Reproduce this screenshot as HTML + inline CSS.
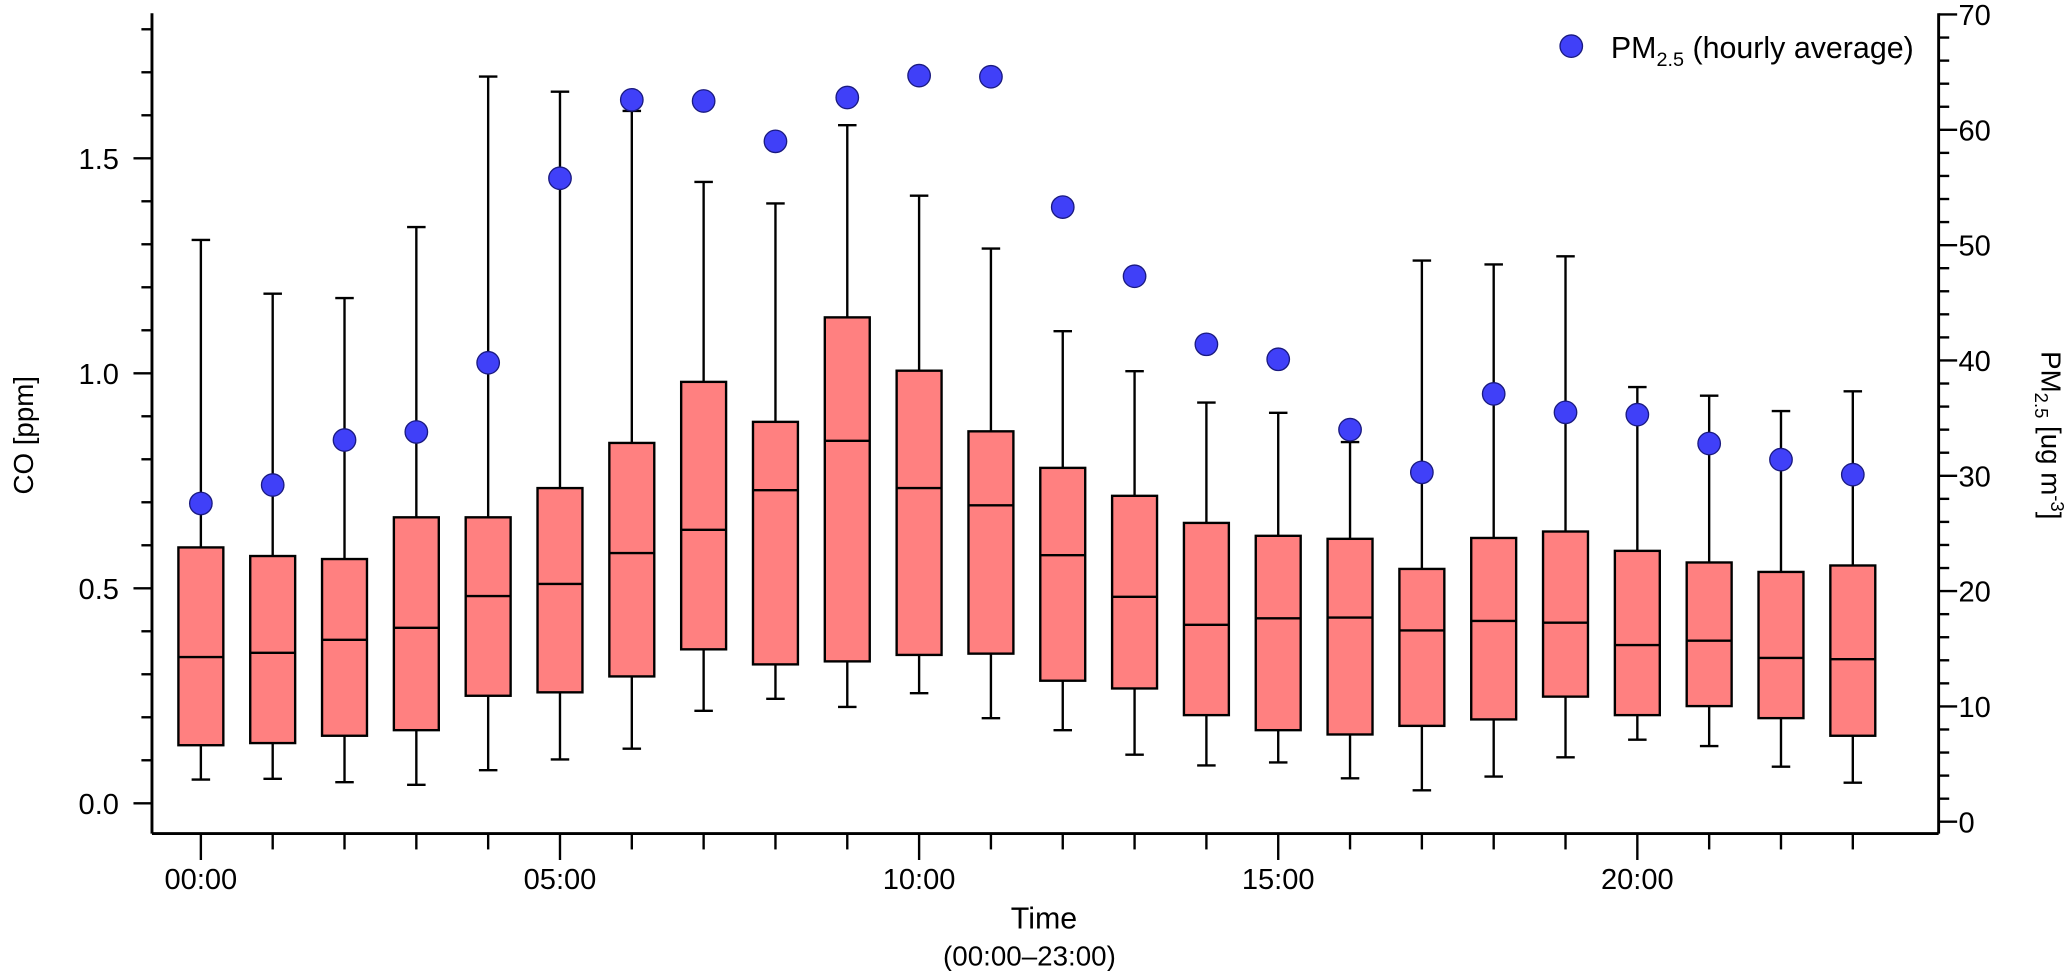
<!DOCTYPE html>
<html><head><meta charset="utf-8"><style>
html,body{margin:0;padding:0;background:#fff;overflow:hidden;}
svg{display:block;font-family:"Liberation Sans",Arial,sans-serif;}
</style></head><body>
<svg id="chart" width="2067" height="971" viewBox="0 0 2067 971" xmlns="http://www.w3.org/2000/svg">
<g transform="scale(1.3215,1.319)">
<g id="axes"></g>
<g id="marks"></g>
<g>
  <circle cx="1189" cy="35" r="8.5" fill="#4040f8" stroke="#1a1a80" stroke-width="1"/>
  <text x="1219" y="44" font-size="23" fill="#000">PM<tspan font-size="15" dy="6">2.5</tspan><tspan dy="-6"> (hourly average)</tspan></text>
</g>
<text transform="translate(25,330) rotate(-90)" text-anchor="middle" font-size="21">CO [ppm]</text>
<text transform="translate(1545,330) rotate(90)" text-anchor="middle" font-size="21">PM<tspan font-size="14" dy="5">2.5</tspan><tspan dy="-5"> [ug m</tspan><tspan font-size="14" dy="-7">-3</tspan><tspan dy="7">]</tspan></text>
<text x="790" y="704" text-anchor="middle" font-size="23">Time</text>
<text x="779" y="732" text-anchor="middle" font-size="21">(00:00–23:00)</text>
</g>
</svg>
<script>
const hours = [0,1,2,3,4,5,6,7,8,9,10,11,12,13,14,15,16,17,18,19,20,21,22,23];
const coMax = [1.31,1.185,1.175,1.34,1.69,1.655,1.61,1.445,1.395,1.577,1.413,1.29,1.098,1.005,0.932,0.908,0.84,1.262,1.253,1.272,0.968,0.948,0.912,0.958];
const coQ3 = [0.595,0.575,0.568,0.665,0.665,0.733,0.838,0.98,0.887,1.13,1.006,0.865,0.78,0.715,0.652,0.622,0.615,0.545,0.617,0.632,0.587,0.56,0.538,0.553];
const coMed = [0.34,0.35,0.38,0.408,0.482,0.51,0.582,0.636,0.728,0.843,0.733,0.693,0.577,0.48,0.415,0.43,0.432,0.402,0.424,0.42,0.368,0.378,0.338,0.335];
const coQ1 = [0.135,0.14,0.157,0.17,0.25,0.258,0.295,0.358,0.323,0.33,0.345,0.348,0.285,0.267,0.205,0.17,0.16,0.18,0.195,0.248,0.205,0.226,0.198,0.157];
const coMin = [0.055,0.057,0.049,0.043,0.077,0.102,0.127,0.215,0.243,0.224,0.256,0.198,0.17,0.113,0.088,0.095,0.058,0.03,0.062,0.107,0.148,0.133,0.085,0.048];
const pm25 = [27.6,29.2,33.1,33.8,39.8,55.8,62.6,62.5,59.0,62.8,64.7,64.6,53.3,47.3,41.4,40.1,34.0,30.3,37.1,35.5,35.3,32.8,31.4,30.1];
const yTicks = ["0.0","0.5","1.0","1.5"];
const y2Ticks = ["0","10","20","30","40","50","60","70"];
const xTickLabels = ["00:00","05:00","10:00","15:00","20:00"];

const NS="http://www.w3.org/2000/svg";
const X0=115, X1=1467, YTOP=10, YBOT=632;
const xs = h => 152 + h*54.35;
const ys = v => 609 - v*326;
const y2s = v => 623 - v*8.743;
function mk(tag, attrs, parent){const e=document.createElementNS(NS,tag);for(const k in attrs)e.setAttribute(k,attrs[k]);parent.appendChild(e);return e;}
const axes=document.getElementById('axes'), marks=document.getElementById('marks');
const line=(x1,y1,x2,y2,p,w)=>mk('line',{x1,y1,x2,y2,stroke:'#000','stroke-width':w||2},p);

let a=line(X0,YTOP,X0,YBOT,axes,2.2);


a=line(X0,YBOT,X1,YBOT,axes,2.2);


a=line(X1,YTOP,X1,YBOT,axes,2.2);



for(let i=0;i<=18;i++){const v=i/10;const y=ys(v);if(y<YTOP)continue;const maj=i%5===0;line(X0,y,X0-(maj?14:8),y,axes,1.8);}
yTicks.forEach(t=>{const el=mk('text',{x:90,y:ys(parseFloat(t))+8,'text-anchor':'end','font-size':22},axes);el.textContent=t;

});
for(let v=0;v<=70;v+=2){const y=y2s(v);const maj=v%10===0;line(X1,y,X1+(maj?14:8),y,axes,1.8);}
y2Ticks.forEach(t=>{const el=mk('text',{x:1482,y:y2s(parseFloat(t))+8,'font-size':22},axes);el.textContent=t;

});
hours.forEach(h=>{const maj=h%5===0;line(xs(h),YBOT,xs(h),YBOT+(maj?20:12),axes,1.8);});
xTickLabels.forEach(t=>{const h=parseInt(t);const el=mk('text',{x:xs(h),y:674,'text-anchor':'middle','font-size':22},axes);el.textContent=t;

});

const BW=34, CAP=14;
hours.forEach((h,i)=>{
  const g=mk('g',{},marks);
  
  
  const x=xs(h);
  line(x,ys(coMax[i]),x,ys(coQ3[i]),g,1.8);
  line(x,ys(coQ1[i]),x,ys(coMin[i]),g,1.8);
  line(x-CAP/2,ys(coMax[i]),x+CAP/2,ys(coMax[i]),g,1.8);
  line(x-CAP/2,ys(coMin[i]),x+CAP/2,ys(coMin[i]),g,1.8);
  mk('rect',{x:x-BW/2,y:ys(coQ3[i]),width:BW,height:ys(coQ1[i])-ys(coQ3[i]),fill:'#ff8080',stroke:'#000','stroke-width':1.8},g);
  line(x-BW/2,ys(coMed[i]),x+BW/2,ys(coMed[i]),g,1.8);
});
hours.forEach((h,i)=>{
  const c=mk('circle',{cx:xs(h),cy:y2s(pm25[i]),r:8.5,fill:'#4040f8',stroke:'#1a1a80','stroke-width':1},marks);
  
  
});
</script>
</body></html>
